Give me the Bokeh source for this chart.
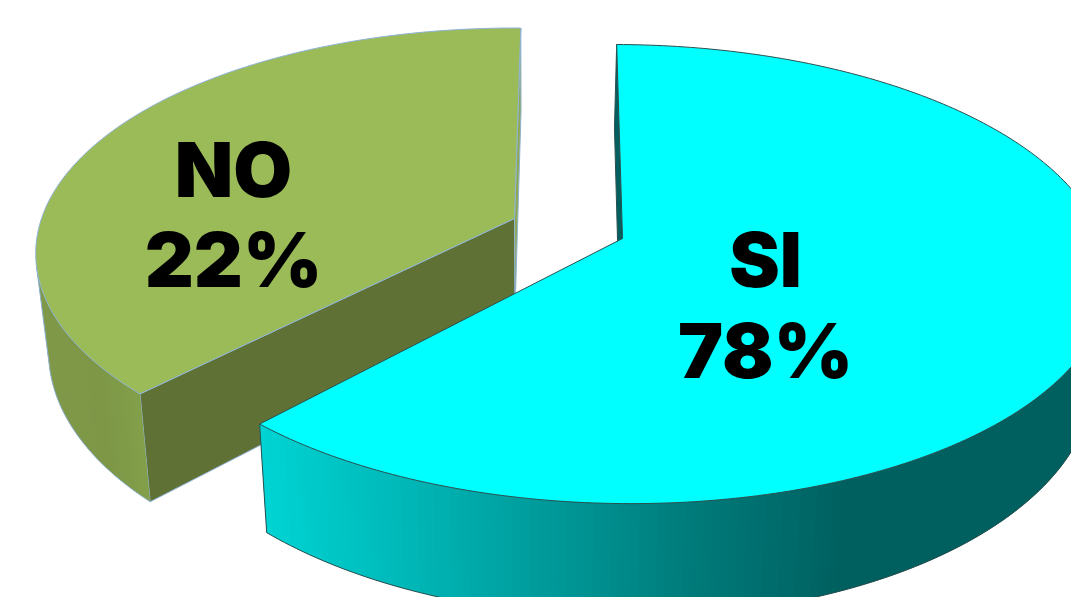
import numpy as np
from bokeh.plotting import figure
from bokeh.models import Range1d, ColumnDataSource
from bokeh.core.properties import value
from bokeh.embed import file_html
from bokeh.resources import INLINE

# data
categories = ["SI", "NO"]
percent_labels = [78, 22]
# sweep of each slice as it is drawn in the picture (percent of the circle)
drawn_share = [61.85, 37.8]
start_deg = [-0.8, 224.8]

# view of the disc
apex_x = [622.0, 514.0]
apex_y = [238.0, 218.0]
rad_x = [481.0, 473.0]
rad_y = [224.0, 220.0]
tilt = [4.0, 0.0]
persp = 0.155
depth = 96.0
vanish_x = 530.0
vanish_k = 0.026

top_colors = ["#00ffff", "#9bbb59"]
edge_colors = ["#2b4f4f", "#8fb3d6"]
cut_colors = ["#006060", "#5f7135"]
sliver_colors = ["#006060", "#8fa952"]
wall_stop_x = [[261, 400, 540, 700, 850, 1200], [30, 100, 142, 600]]
wall_stop_rgb = [
    [(0, 212, 212), (0, 185, 185), (0, 156, 156), (0, 122, 122), (0, 96, 96), (0, 96, 96)],
    [(128, 153, 74), (125, 151, 71), (131, 160, 74), (131, 160, 74)],
]
label_x = [765, 233]
label_mid1 = [258, 168]
label_mid2 = [349, 258]
label_font = "Inter Black"
label_size = "76px"

p = figure(width=1071, height=597, x_range=Range1d(0, 1071), y_range=Range1d(597, 0),
           output_backend="svg", toolbar_location=None, tools="", min_border=0,
           x_axis_type=None, y_axis_type=None, background_fill_color="white",
           border_fill_color="white", outline_line_color=None)
p.grid.visible = False


def project(i, deg):
    t = np.radians(deg)
    u, v = np.sin(t), -np.cos(t)
    w = 1 - persp * v
    return apex_x[i] + rad_x[i] * u / w, apex_y[i] + (rad_y[i] * v + tilt[i] * u) / w, w, v


def drop(x, y, w):
    return x + (vanish_x - x) * vanish_k, y + depth / w


def hexcolor(i, x):
    stops = wall_stop_x[i]
    rgb = np.array(wall_stop_rgb[i], dtype=float)
    c = [int(round(np.interp(x, stops, rgb[:, k]))) for k in range(3)]
    return "#%02x%02x%02x" % tuple(c)


for i in [1, 0]:
    a0 = start_deg[i]
    a1 = a0 + drawn_share[i] * 3.6
    ang = np.linspace(a0, a1, 241)
    x, y, w, v = project(i, ang)
    xb, yb = drop(x, y, w)
    ax, ay = apex_x[i], apex_y[i]
    axb, ayb = drop(ax, ay, 1.0)

    # cut faces
    p.patch([x[-1], ax, axb, xb[-1]] if i == 1 else [x[0], ax, axb, xb[0]],
            [y[-1], ay, ayb, yb[-1]] if i == 1 else [y[0], ay, ayb, yb[0]],
            fill_color=sliver_colors[i], line_color=edge_colors[i], line_width=1)
    if i == 1:
        p.patch([x[0], ax, axb, xb[0]], [y[0], ay, ayb, yb[0]], fill_color=cut_colors[i],
                line_color=edge_colors[i], line_width=1)

    # silhouette: where the rim runs parallel to the drop direction
    cross = np.gradient(x) * (yb - y) - np.gradient(y) * (xb - x)
    sil = int(np.argmin(np.abs(cross)))
    front = np.where(v >= v[sil])[0]

    xs, ys, cols = [], [], []
    for j in front[:-1]:
        k = min(j + 3, front[-1])
        xs.append([x[j], x[k], xb[k], xb[j]])
        ys.append([y[j], y[k], yb[k], yb[j]])
        cols.append(hexcolor(i, x[j]))
    src = ColumnDataSource(dict(xs=xs, ys=ys, c=cols))
    p.patches("xs", "ys", source=src, fill_color="c", line_color=None)
    p.line(xb[front], yb[front], line_color=edge_colors[i], line_width=1)
    p.line([x[sil], xb[sil]], [y[sil], yb[sil]], line_color=edge_colors[i], line_width=1)
    if i == 0:
        p.line([x[-1], xb[-1]], [y[-1], yb[-1]], line_color=edge_colors[i], line_width=1)

    # top surface
    p.patch(np.r_[ax, x], np.r_[ay, y], fill_color=top_colors[i],
            line_color=edge_colors[i], line_width=1)

for i in range(2):
    p.text([label_x[i]], [label_mid1[i]], text=[categories[i]], text_font=value(label_font),
           text_font_size=label_size, text_font_style="bold", text_align="center",
           text_baseline="middle", text_color="black")
    p.text([label_x[i]], [label_mid2[i]], text=["%d%%" % percent_labels[i]], text_font=value(label_font),
           text_font_size=label_size, text_font_style="bold", text_align="center",
           text_baseline="middle", text_color="black")

open("out.html", "w").write(file_html(p, INLINE))
